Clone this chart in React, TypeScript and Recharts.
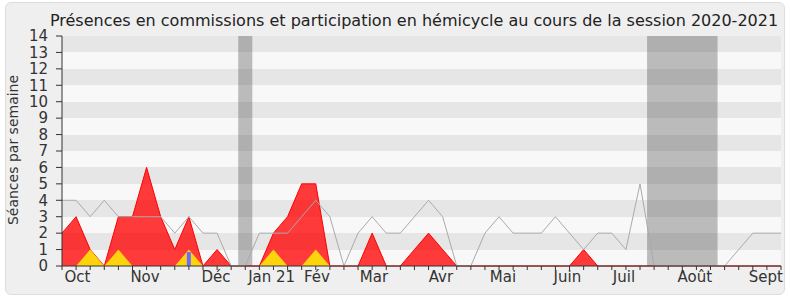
import React from 'react';
import { ComposedChart, Area, Line, Bar, XAxis, YAxis, ReferenceArea, CartesianGrid } from 'recharts';

// 52 weekly points, session 2020-2021
const weekIndex = [
  0, 1, 2, 3, 4, 5, 6, 7, 8, 9, 10, 11, 12, 13, 14, 15, 16, 17, 18, 19, 20, 21, 22, 23, 24, 25,
  26, 27, 28, 29, 30, 31, 32, 33, 34, 35, 36, 37, 38, 39, 40, 41, 42, 43, 44, 45, 46, 47, 48, 49, 50, 51,
];

// red: présences en commission
const presencesCommission = [
  2, 3, 1, 0, 3, 3, 6, 3, 1, 3, 0, 1, 0, 0, 0, 2, 3, 5, 5, 0, 0, 0, 2, 0, 0, 1,
  2, 1, 0, 0, 0, 0, 0, 0, 0, 0, 0, 1, 0, 0, 0, 0, 0, 0, 0, 0, 0, 0, 0, 0, 0, 0,
];
// yellow: interventions en commission
const interventionsCommission = [
  0, 0, 1, 0, 1, 0, 0, 0, 0, 1, 0, 0, 0, 0, 0, 1, 0, 0, 1, 0, 0, 0, 0, 0, 0, 0,
  0, 0, 0, 0, 0, 0, 0, 0, 0, 0, 0, 0, 0, 0, 0, 0, 0, 0, 0, 0, 0, 0, 0, 0, 0, 0,
];
// blue: participation en hémicycle
const participationHemicycle = [
  0, 0, 0, 0, 0, 0, 0, 0, 0, 0.85, 0, 0, 0, 0, 0, 0, 0, 0, 0, 0, 0, 0, 0, 0, 0, 0,
  0, 0, 0, 0, 0, 0, 0, 0, 0, 0, 0, 0, 0, 0, 0, 0, 0, 0, 0, 0, 0, 0, 0, 0, 0, 0,
];
// gray: médiane des députés
const medianeDeputes = [
  4, 4, 3, 4, 3, 3, 3, 3, 2, 3, 2, 2, 0, 0, 2, 2, 2, 3, 4, 3, 0, 2, 3, 2, 2, 3,
  4, 3, 0, 0, 2, 3, 2, 2, 2, 3, 2, 1, 2, 2, 1, 5, 0, 0, 0, 0, 0, 0, 1, 2, 2, 2,
];

const monthLabels = ['Oct', 'Nov', 'Déc', 'Jan 21', 'Fév', 'Mar', 'Avr', 'Mai', 'Juin', 'Juil', 'Août', 'Sept'];
const monthTickValues = [1.1, 5.89, 10.92, 14.87, 18.09, 22.13, 26.88, 31.28, 35.85, 39.86, 44.89, 49.93];
const yTicks = [0, 1, 2, 3, 4, 5, 6, 7, 8, 9, 10, 11, 12, 13, 14];
const vacances = [
  { from: 12.5, to: 13.5 },
  { from: 41.5, to: 46.5 },
];

const data = weekIndex.map((w, i) => ({
  week: w,
  presence: presencesCommission[i],
  intervention: interventionsCommission[i],
  hemicycle: participationHemicycle[i] > 0 ? participationHemicycle[i] : null,
  mediane: medianeDeputes[i],
}));

const FONT = '"DejaVu Sans", sans-serif';

const bottomTicks = [...weekIndex, ...monthTickValues];

const BottomTick = (props: any) => {
  const { x, y, payload } = props;
  const v = payload?.value;
  const idx = monthTickValues.indexOf(v);
  if (idx >= 0) {
    return (
      <text x={x} y={y + 5} dy="0.71em" textAnchor="middle" fontSize={15} fill="#333" fontFamily={FONT}>
        {monthLabels[idx]}
      </text>
    );
  }
  return <line x1={x} x2={x} y1={y} y2={y + 4} stroke="#333" strokeWidth={1} />;
};

const TopTick = (props: any) => {
  const { x, y } = props;
  return <line x1={x} x2={x} y1={y - 1} y2={y} stroke="#555" strokeWidth={1} />;
};

export default function App() {
  return (
    <div style={{ position: 'absolute', left: 0, top: 0, width: 790, height: 300, background: '#ffffff', fontFamily: FONT }}>
      <div
        style={{
          position: 'absolute',
          left: 5,
          top: 2,
          width: 778,
          height: 291,
          background: '#efefef',
          border: '1px solid #dddddd',
          borderRadius: 6,
        }}
      />
      <div style={{ position: 'absolute', left: 0, top: 0 }}>
        <ComposedChart width={790} height={300} data={data} margin={{ top: 36, right: 9, left: 0, bottom: 0 }}>
          <CartesianGrid
            horizontal={true}
            vertical={false}
            stroke="transparent"
            horizontalFill={['#e6e6e6', '#f8f8f8']}
            yAxisId="y"
            xAxisId="w"
          />
          <XAxis
            xAxisId="w"
            dataKey="week"
            type="number"
            domain={[0, 51]}
            ticks={bottomTicks}
            interval={0}
            height={34}
            tick={<BottomTick />}
            tickSize={0}
            tickMargin={0}
            tickLine={false}
            axisLine={{ stroke: '#333' }}
          />
          <XAxis
            xAxisId="top"
            orientation="top"
            dataKey="week"
            type="number"
            domain={[0, 51]}
            ticks={weekIndex}
            interval={0}
            height={0}
            tick={<TopTick />}
            tickSize={0}
            tickMargin={0}
            tickLine={false}
            axisLine={false}
          />
          <YAxis
            yAxisId="y"
            type="number"
            domain={[0, 14]}
            ticks={yTicks}
            interval={0}
            width={62}
            tickSize={6}
            tickMargin={8}
            tickLine={{ stroke: '#333' }}
            axisLine={{ stroke: '#333' }}
            tick={{ fill: '#333', fontSize: 15, fontFamily: FONT }}
          />
          <YAxis
            yAxisId="r"
            orientation="right"
            type="number"
            domain={[0, 14]}
            width={0}
            tick={false}
            tickLine={false}
            axisLine={{ stroke: '#cccccc' }}
          />
          {vacances.map((v, i) => (
            <ReferenceArea
              key={i}
              xAxisId="w"
              yAxisId="y"
              x1={v.from}
              x2={v.to}
              y1={0}
              y2={14}
              fill="#3b3b3b"
              fillOpacity={0.32}
              stroke="none"
            />
          ))}
          <Line
            xAxisId="w"
            yAxisId="y"
            type="linear"
            dataKey="mediane"
            stroke="#aaaaaa"
            strokeWidth={1}
            dot={false}
            isAnimationActive={false}
          />
          <Area
            xAxisId="w"
            yAxisId="y"
            type="linear"
            dataKey="presence"
            stroke="#ff0000"
            strokeWidth={1}
            fill="#ff0000"
            fillOpacity={0.77}
            isAnimationActive={false}
          />
          <Area
            xAxisId="w"
            yAxisId="y"
            type="linear"
            dataKey="intervention"
            stroke="none"
            fill="#fdd30e"
            fillOpacity={1}
            isAnimationActive={false}
          />
          <Bar
            xAxisId="w"
            yAxisId="y"
            dataKey="hemicycle"
            fill="#6b6bff"
            barSize={4}
            isAnimationActive={false}
          />
        </ComposedChart>
      </div>
      <svg width={790} height={300} style={{ position: 'absolute', left: 0, top: 0, pointerEvents: 'none' }}>
        <text x={414} y={26} textAnchor="middle" fontSize={16} fill="#222" fontFamily={FONT}>
          Présences en commissions et participation en hémicycle au cours de la session 2020-2021
        </text>
        <text
          x={18}
          y={150}
          textAnchor="middle"
          fontSize={14}
          fill="#333"
          fontFamily={FONT}
          transform="rotate(-90, 18, 150)"
        >
          Séances par semaine
        </text>
      </svg>
    </div>
  );
}
